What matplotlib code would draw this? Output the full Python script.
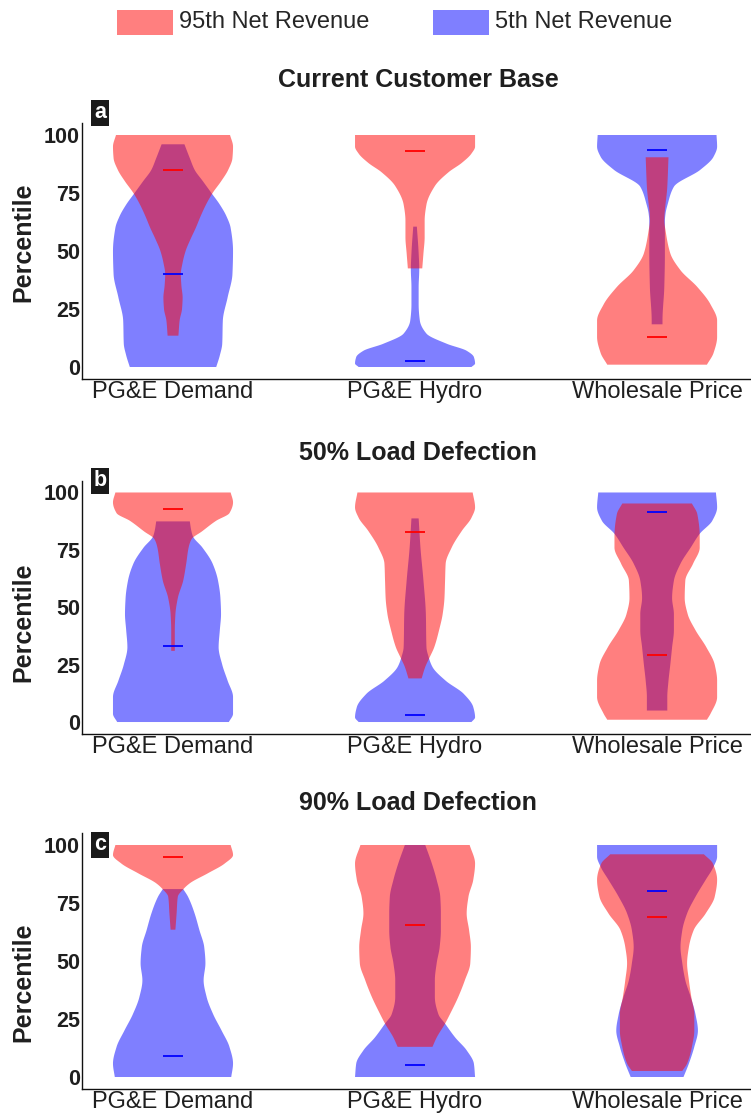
import numpy as np
import matplotlib
matplotlib.use("Agg")
import matplotlib.pyplot as plt

plt.rcParams['font.family'] = ['Liberation Sans', 'DejaVu Sans']

# ---------------------------------------------------------------------------
# Data: violin outlines as (percentile, relative density) pairs, bottom -> top
# ---------------------------------------------------------------------------
categories = ["PG&E Demand", "PG&E Hydro", "Wholesale Price"]
panel_titles = ["Current Customer Base", "50% Load Defection", "90% Load Defection"]
panel_letters = ["a", "b", "c"]
yticks = [0, 25, 50, 75, 100]
series_names = ["95th Net Revenue", "5th Net Revenue"]

# Current customer base
cur_demand_95 = [(13.5, .09), (20, .11), (25, .15), (30, .16), (35, .14), (40, .13), (45, .16),
                 (50, .21), (55, .29), (60, .38), (65, .46), (70, .55), (75, .66), (80, .80),
                 (85, .92), (90, .99), (95, 1.0), (100, .95)]
cur_demand_5 = [(0, .72), (5, .78), (10, .82), (20, .83), (30, .91), (40, .99), (50, 1.0),
                (60, .96), (65, .89), (70, .78), (75, .64), (80, .50), (85, .36), (90, .28), (96, .19)]
cur_hydro_95 = [(42.5, .12), (49, .14), (56, .16), (63, .16), (70, .19), (78, .33), (84, .56),
                (88, .78), (92, .94), (95, 1.0), (100, 1.0)]
cur_hydro_5 = [(0, .94), (1.5, 1.0), (4.3, .98), (7, .86), (10, .53), (14.4, .19), (20, .08),
               (27, .06), (34.5, .06), (42, .07), (49, .06), (60.5, .03)]
cur_price_95 = [(1, .83), (6, .94), (13, 1.0), (20, 1.0), (27, .89), (34.5, .67), (41.7, .39),
                (49, .22), (59, .14), (63, .12), (77.7, .17), (90.4, .19)]
cur_price_5 = [(18.4, .09), (20, .09), (34.5, .12), (49, .13), (63, .13), (66, .14), (70.5, .18),
               (77.7, .28), (85, .72), (90.6, .94), (95, 1.0), (100, .99)]

# 50% load defection
half_demand_95 = [(31, .03), (32.6, .03), (40, .03), (47, .04), (54, .08), (61.6, .17), (69, .22),
                  (76, .26), (79.7, .31), (83, .48), (87.7, .72), (91, .94), (95.7, 1.0), (100, .96)]
half_demand_5 = [(0, .93), (3.6, 1.0), (10.9, 1.0), (18, .91), (25, .82), (32.6, .76), (40, .78),
                 (47, .80), (54, .79), (61.6, .75), (69, .66), (76, .49), (81, .33), (84, .30),
                 (87.4, .28)]
half_hydro_95 = [(19, .11), (24, .17), (28, .24), (32.6, .32), (40, .40), (47, .46), (54, .49),
                 (61.6, .50), (69, .51), (76, .61), (83.3, .78), (89, .94), (93.5, 1.0), (100, .96)]
half_hydro_5 = [(0, .94), (2, 1.0), (6.5, .97), (12.3, .81), (18, .51), (24, .29), (28, .23),
                (32.6, .19), (47, .18), (61.6, .14), (76, .09), (88.7, .06)]
half_price_95 = [(1, .83), (3.6, .89), (10.9, 1.0), (18, 1.0), (25, .96), (32.6, .82), (40, .64),
                 (47, .51), (54, .46), (61.6, .47), (69, .60), (76, .71), (81, .71), (90.6, .67),
                 (95.2, .58)]
half_price_5 = [(5, .17), (10.9, .17), (18, .19), (25, .22), (32.6, .25), (40, .28), (47, .28),
                (54, .25), (61.6, .28), (69, .39), (76, .56), (82, .71), (87.7, .92), (93.5, 1.0),
                (100, .98)]

# 90% load defection
most_demand_95 = [(63.5, .04), (70.5, .06), (77.7, .08), (80.9, .17), (83.5, .28), (87.8, .58),
                  (92, .86), (95.7, 1.0), (100, .96)]
most_demand_5 = [(0, .97), (5.8, 1.0), (13, .94), (20, .81), (27, .67), (34.5, .56), (41.7, .51),
                 (49, .54), (56, .52), (63.3, .44), (70.5, .36), (77.7, .25), (81, .17)]
most_hydro_95 = [(13, .29), (17, .36), (23, .50), (27, .58), (34.5, .72), (41.7, .83), (49, .92),
                 (56, .93), (63.3, .90), (70.5, .86), (77.7, .89), (85, .97), (92, 1.0), (100, .91)]
most_hydro_5 = [(0, 1.0), (5.8, .98), (11.5, .86), (17, .67), (23, .50), (27, .39), (34.5, .33),
                (41.7, .33), (49, .36), (56, .41), (63.3, .43), (70.5, .43), (77.7, .42), (85, .36),
                (92, .28), (100, .17)]
most_price_95 = [(2.6, .42), (5.8, .50), (13, .58), (20, .62), (27, .62), (34.5, .57), (41.7, .53),
                 (49, .50), (56, .53), (63.3, .61), (70.5, .81), (77.7, .96), (85, 1.0), (92, .93),
                 (96, .78)]
most_price_5 = [(0, .44), (5.8, .53), (13, .62), (20, .68), (27, .64), (34.5, .56), (41.7, .47),
                (49, .42), (56, .39), (63.3, .42), (70.5, .50), (77.7, .64), (85, .81), (90.6, .94),
                (95, 1.0), (100, 1.0)]

# Medians (percentile) per category
cur_median_95 = [85, 93, 13]
cur_median_5 = [40, 2.6, 93.5]
half_median_95 = [93, 83, 29.4]
half_median_5 = [33, 3.2, 91.3]
most_median_95 = [94.7, 65.5, 68.8]
most_median_5 = [8.9, 5, 80.3]

panels = [
    ([cur_demand_95, cur_hydro_95, cur_price_95], [cur_demand_5, cur_hydro_5, cur_price_5],
     cur_median_95, cur_median_5),
    ([half_demand_95, half_hydro_95, half_price_95], [half_demand_5, half_hydro_5, half_price_5],
     half_median_95, half_median_5),
    ([most_demand_95, most_hydro_95, most_price_95], [most_demand_5, most_hydro_5, most_price_5],
     most_median_95, most_median_5),
]

# ---------------------------------------------------------------------------
# Styling / layout
# ---------------------------------------------------------------------------
RED = "#FF0000"
BLUE = "#0000FF"
ALPHA = 0.5
HALF_WIDTH = 0.248      # half-width (category units) for relative density 1.0
MEDIAN_HALF = 0.041
TEXT_DARK = "#1f1f1f"

W, H = 751, 1119
fig = plt.figure(figsize=(W / 100, H / 100), dpi=100)


def px_box(left, top, right, bottom):
    return [left / W, 1 - bottom / H, (right - left) / W, (bottom - top) / H]


axes_boxes = [px_box(82, 123.4, 751, 378.6),
              px_box(82, 481.0, 751, 733.5),
              px_box(82, 833.4, 751, 1088.6)]
title_y = [80, 453, 803]
letter_y = [113, 481, 845]
ylabel_y = [0.536, 0.442, 0.418]


def pchip(x, y, xn):
    x = np.asarray(x, float)
    y = np.asarray(y, float)
    h = np.diff(x)
    d = np.diff(y) / h
    m = np.zeros_like(y)
    m[0], m[-1] = d[0], d[-1]
    for k in range(1, len(x) - 1):
        if d[k - 1] * d[k] > 0:
            w1 = 2 * h[k] + h[k - 1]
            w2 = h[k] + 2 * h[k - 1]
            m[k] = (w1 + w2) / (w1 / d[k - 1] + w2 / d[k])
    idx = np.clip(np.searchsorted(x, xn) - 1, 0, len(h) - 1)
    t = (xn - x[idx]) / h[idx]
    h00 = 2 * t**3 - 3 * t**2 + 1
    h10 = t**3 - 2 * t**2 + t
    h01 = -2 * t**3 + 3 * t**2
    h11 = t**3 - t**2
    return h00 * y[idx] + h10 * h[idx] * m[idx] + h01 * y[idx + 1] + h11 * h[idx] * m[idx + 1]


def draw_violin(ax, center, profile, color):
    lv = np.array([p[0] for p in profile])
    dens = np.array([p[1] for p in profile])
    ys = np.linspace(lv[0], lv[-1], 300)
    w = np.clip(pchip(lv, dens, ys), 0.005, None) * HALF_WIDTH
    xs = np.concatenate([center - w, (center + w)[::-1]])
    yy = np.concatenate([ys, ys[::-1]])
    ax.fill(xs, yy, color=color, alpha=ALPHA, lw=0)


for i, (profs95, profs5, med95, med5) in enumerate(panels):
    ax = fig.add_axes(axes_boxes[i])
    positions = np.arange(1, len(categories) + 1)
    for pos, p5, p95 in zip(positions, profs5, profs95):
        draw_violin(ax, pos, p5, BLUE)
        draw_violin(ax, pos, p95, RED)
    ax.hlines(med95, positions - MEDIAN_HALF, positions + MEDIAN_HALF, color=RED, lw=1.3, zorder=5)
    ax.hlines(med5, positions - MEDIAN_HALF, positions + MEDIAN_HALF, color=BLUE, lw=1.3, zorder=5)

    ax.set_xlim(0.624, 3.388)
    ax.set_ylim(-5, 105)
    ax.set_xticks(positions)
    ax.set_xticklabels(categories, fontsize=17, color=TEXT_DARK)
    ax.set_yticks(yticks)
    ax.set_yticklabels([str(v) for v in yticks], fontsize=15.5, fontweight='bold', color=TEXT_DARK)
    ax.tick_params(axis='both', length=0)
    ax.tick_params(axis='x', pad=1.5)
    ax.tick_params(axis='y', pad=1.5)
    for side in ("top", "right"):
        ax.spines[side].set_visible(False)
    for side in ("left", "bottom"):
        ax.spines[side].set_linewidth(1.0)
        ax.spines[side].set_color("#111111")
    ax.set_ylabel("Percentile", fontsize=18, fontweight='bold', color=TEXT_DARK)
    ax.yaxis.set_label_coords(-0.070, ylabel_y[i])

    fig.text(418 / W, 1 - title_y[i] / H, panel_titles[i], ha='center', va='center',
             fontsize=18, fontweight='bold', color=TEXT_DARK)
    fig.text(100 / W, 1 - letter_y[i] / H, panel_letters[i], ha='center', va='center',
             fontsize=15.5, fontweight='bold', color='white',
             bbox=dict(boxstyle='square,pad=0.12', fc='#1a1a1a', ec='none'))

# Legend across the top
legend_items = [(117, RED, series_names[0]), (433, BLUE, series_names[1])]
for x0, col, label in legend_items:
    fig.patches.append(plt.Rectangle((x0 / W, 1 - 35 / H), 56 / W, 25 / H, transform=fig.transFigure,
                                     facecolor=col, alpha=ALPHA, lw=0))
    fig.text((x0 + 62) / W, 1 - 22.5 / H, label, ha='left', va='center', fontsize=17,
             color="#262626")

fig.savefig("out.png", dpi=100)
